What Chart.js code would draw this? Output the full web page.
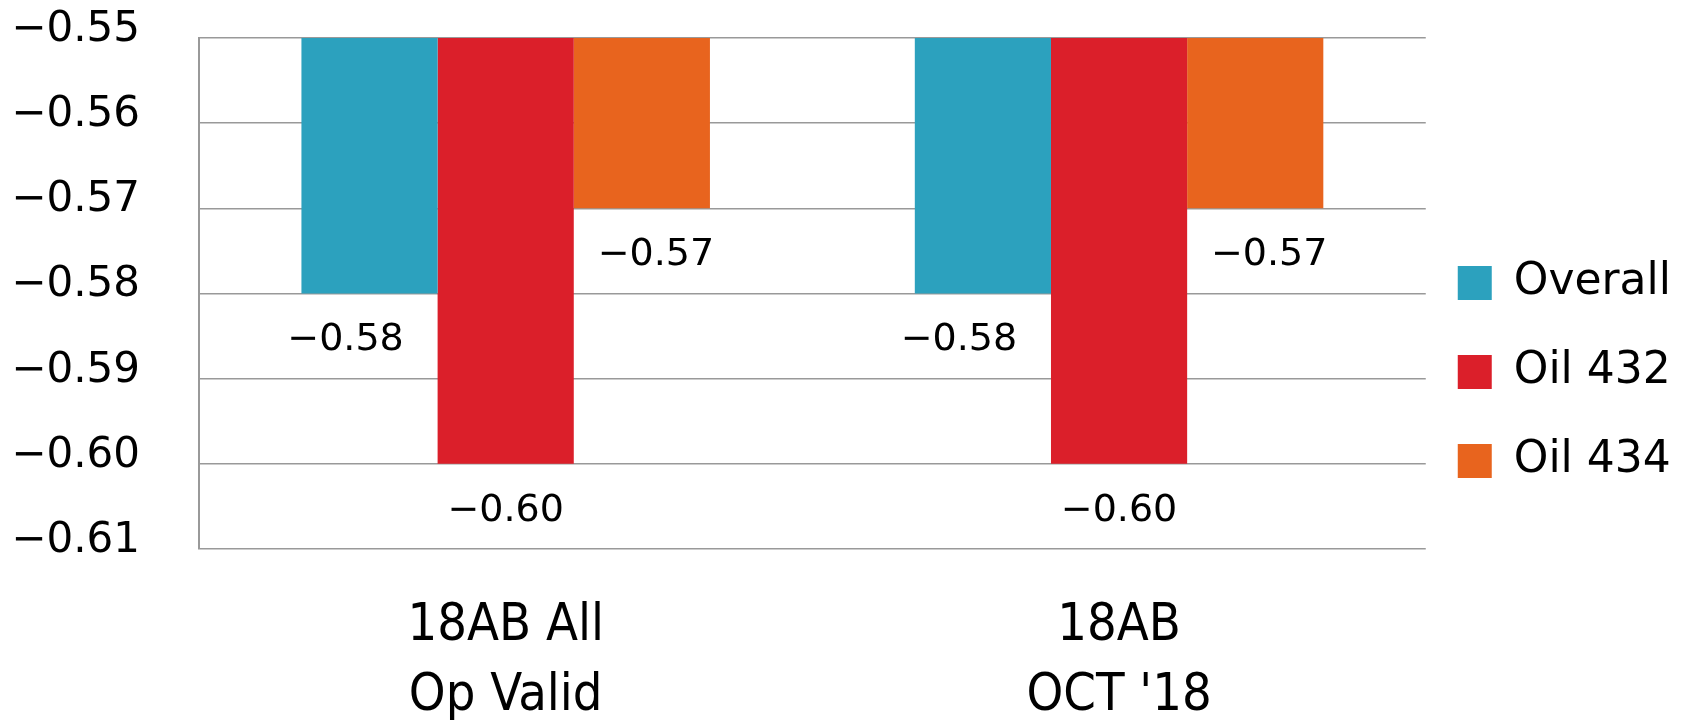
<!DOCTYPE html>
<html>
<head>
<meta charset="utf-8">
<script src="https://cdn.jsdelivr.net/npm/chart.js@4.4.1/dist/chart.umd.min.js"></script>
<style>
  html, body { margin: 0; padding: 0; background: #ffffff; }
  #wrap { width: 1694px; height: 720px; }
</style>
</head>
<body>
<div id="wrap"><canvas id="chart" width="1694" height="720"></canvas></div>
<script>
// Categories (two-line axis labels)
const categories = [['18AB All', 'Op Valid'], ['18AB', "OCT '18"]];

// Series values
const overall = [-0.58, -0.58];
const oil432 = [-0.60, -0.60];
const oil434 = [-0.57, -0.57];

// Y axis range and tick step
const yMin = -0.61;
const yMax = -0.55;
const yStep = 0.01;

const seriesNames = ['Overall', 'Oil 432', 'Oil 434'];
const seriesColors = ['#2ca1be', '#db1f2a', '#e8641e'];

const minusFmt = v => (v < 0 ? '\u2212' : '') + Math.abs(v).toFixed(2);

// Draws each bar's value just below the end of the bar
const valueLabels = {
  id: 'valueLabels',
  afterDatasetsDraw(chart, args, opts) {
    const ctx = chart.ctx;
    ctx.save();
    ctx.font = opts.font;
    ctx.fillStyle = opts.color;
    ctx.textAlign = 'center';
    ctx.textBaseline = 'middle';
    chart.data.datasets.forEach((ds, di) => {
      const meta = chart.getDatasetMeta(di);
      const dx = opts.offsetX[di] || 0;
      meta.data.forEach((bar, i) => {
        ctx.fillText(minusFmt(ds.data[i]), bar.x + dx, bar.y + opts.gap);
      });
    });
    ctx.restore();
  }
};

// Moves the legend block slightly left and up after layout
const legendNudge = {
  id: 'legendNudge',
  afterLayout(chart, args, opts) {
    const lg = chart.legend;
    if (!lg) return;
    lg.left += opts.dx; lg.right += opts.dx;
    lg.top += opts.dy; lg.bottom += opts.dy;
  }
};

new Chart(document.getElementById('chart'), {
  type: 'bar',
  data: {
    labels: categories,
    datasets: [
      { label: seriesNames[0], data: overall, backgroundColor: seriesColors[0] },
      { label: seriesNames[1], data: oil432, backgroundColor: seriesColors[1] },
      { label: seriesNames[2], data: oil434, backgroundColor: seriesColors[2] }
    ]
  },
  options: {
    responsive: false,
    animation: false,
    layout: { padding: { top: 38, right: 0, bottom: 0, left: 0 } },
    datasets: {
      bar: { categoryPercentage: 0.666, barPercentage: 1.0, borderWidth: 0 }
    },
    scales: {
      x: {
        grid: { display: false, drawTicks: false },
        border: { display: false },
        ticks: {
          color: '#000000',
          padding: 43,
          maxRotation: 0,
          font: { family: "'DejaVu Sans Condensed', sans-serif", size: 52, lineHeight: 1.34 }
        },
        afterFit(scale) {
          scale.height = 171;
          scale.paddingLeft = 0;
          scale.paddingRight = 0;
        }
      },
      y: {
        min: yMin,
        max: yMax,
        grid: { color: '#999999', lineWidth: 1.5, drawTicks: false },
        border: { display: true, color: '#999999', width: 2 },
        ticks: {
          stepSize: yStep,
          color: '#000000',
          padding: 59,
          labelOffset: -8,
          font: { family: "'DejaVu Sans', sans-serif", size: 42 },
          callback: v => minusFmt(v)
        },
        afterFit(scale) {
          scale.width = 199;
          scale.paddingTop = 0;
          scale.paddingBottom = 0;
        }
      }
    },
    plugins: {
      legend: {
        position: 'right',
        labels: {
          color: '#000000',
          boxWidth: 34,
          boxHeight: 34,
          padding: 45,
          font: { family: "'DejaVu Sans', sans-serif", size: 44 }
        }
      },
      legendNudge: { dx: -13, dy: -7 },
      tooltip: { enabled: false },
      valueLabels: {
        font: "38px 'DejaVu Sans', sans-serif",
        color: '#000000',
        gap: 47,
        offsetX: [-24, 0, 14]
      }
    }
  },
  plugins: [valueLabels, legendNudge]
});
</script>
</body>
</html>
